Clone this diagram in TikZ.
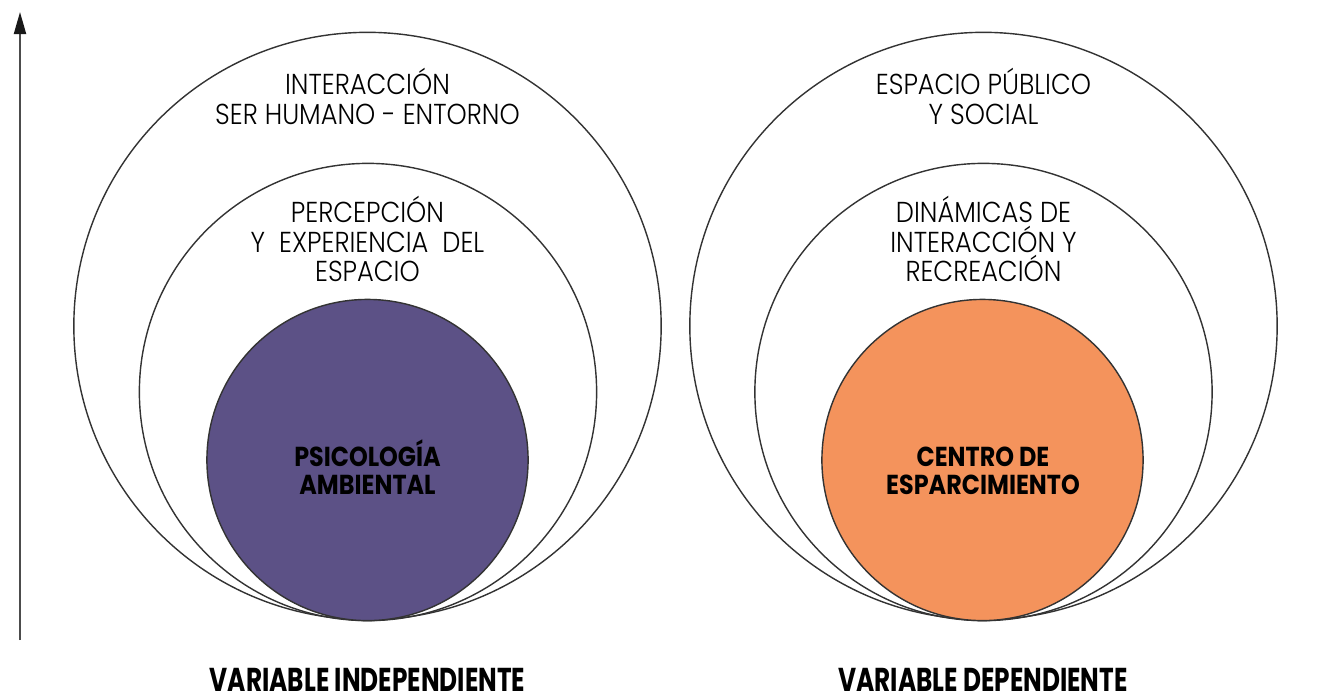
\documentclass[tikz,border=0pt]{standalone}
\usepackage{fontspec}
\setmainfont{Poppins}
\newfontfamily\lightfont{Poppins Light}[FakeStretch=0.89]
\newfontfamily\corefont{Poppins Bold}[FakeStretch=0.87]
\newfontfamily\varfont{Poppins Bold}[FakeStretch=0.75]
\usetikzlibrary{arrows.meta,positioning}
\definecolor{coreviolet}{HTML}{5C5186}
\definecolor{coreorange}{HTML}{F4935C}
\tikzset{
    ring/.style={draw=black!80, line width=0.4pt, circle, inner sep=0pt, minimum size=#1},
    core/.style args={#1 #2}{ring=#1, fill=#2},
    ringtext/.style={align=center, inner sep=0pt, font=\lightfont\fontsize{8.2}{8.4}\selectfont},
    coretext/.style={align=center, inner sep=0pt, font=\corefont\fontsize{7.8}{8.0}\selectfont},
    vartext/.style={anchor=base, inner sep=0pt, font=\varfont\fontsize{9.4}{10}\selectfont}
}

\begin{document}
\begin{tikzpicture}[x=0.01cm, y=-0.01cm]
    \useasboundingbox (0,0) rectangle (1329,690);
    % axis
    \coordinate (axisfoot) at (20,640);
    \coordinate (axistip) at (20,12);
    \draw[black!70, line width=0.55pt, -{Triangle[length=0.22cm, width=0.12cm, black!90]}] (axisfoot) -- (axistip);
    % independent variable
    \node[ring=5.87cm] (indouter) at (367.5,326) {};
    \node[ring=4.57cm] (indmid) at (368,392) {};
    \node[core={3.21cm coreviolet}] (indcore) at (367.5,460) {};
    \node[ringtext] (indtextA) at (367.5,96.5) {INTERACCIÓN\\SER HUMANO - ENTORNO};
    \node[ringtext] (indtextB) at (367.5,239) {PERCEPCIÓN\\Y\ \ EXPERIENCIA\ \ DEL\\ESPACIO};
    \node[coretext] (indtextC) at (367.5,467) {PSICOLOGÍA\\AMBIENTAL};
    \node[vartext] (indvar) at (367.5,691) {VARIABLE INDEPENDIENTE};
    % dependent variable
    \node[ring=5.87cm] (depouter) at (983.5,326) {};
    \node[ring=4.57cm] (depmid) at (983.5,392) {};
    \node[core={3.21cm coreorange}] (depcore) at (982.5,460) {};
    \node[ringtext] (deptextA) at (983.5,96.5) {ESPACIO PÚBLICO\\Y SOCIAL};
    \node[ringtext] (deptextB) at (983.5,239) {DINÁMICAS DE\\INTERACCIÓN Y\\RECREACIÓN};
    \node[coretext] (deptextC) at (983,471) {CENTRO DE\\ESPARCIMIENTO};
    \node[vartext] (depvar) at (983,691) {VARIABLE DEPENDIENTE};
\end{tikzpicture}
\end{document}
